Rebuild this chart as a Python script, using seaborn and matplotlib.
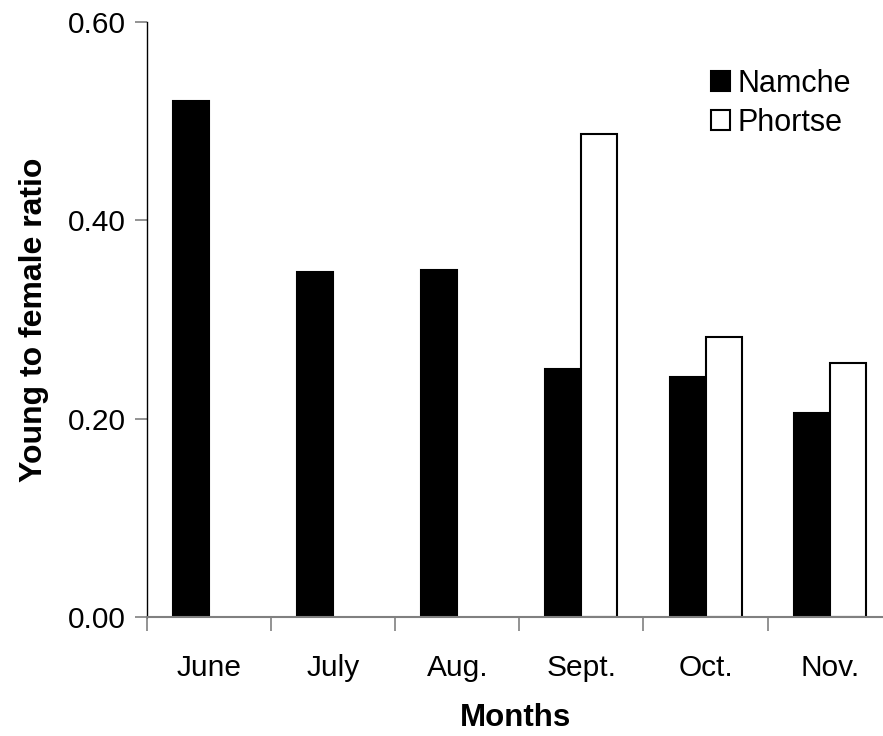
import numpy as np
import pandas as pd
import seaborn as sns
import matplotlib.pyplot as plt

months = ['June', 'July', 'Aug.', 'Sept.', 'Oct.', 'Nov.']
namche = [0.520, 0.348, 0.350, 0.250, 0.242, 0.206]
phortse = [np.nan, np.nan, np.nan, 0.487, 0.282, 0.256]

df = pd.DataFrame({
    'month': months * 2,
    'ratio': namche + phortse,
    'site': ['Namche'] * 6 + ['Phortse'] * 6,
})

sns.set_style('white')
plt.rcParams['font.family'] = ['Liberation Sans', 'DejaVu Sans']
plt.rcParams['text.color'] = 'black'
plt.rcParams['axes.labelcolor'] = 'black'

fig = plt.figure(figsize=(8.83, 7.36), dpi=100)
ax = fig.add_axes([147 / 883, 119 / 736, 736 / 883, 595 / 736])

sns.barplot(data=df, x='month', y='ratio', hue='site', order=months,
            hue_order=['Namche', 'Phortse'],
            palette={'Namche': 'black', 'Phortse': 'white'},
            width=0.58, gap=0, edgecolor='black', linewidth=1.5,
            errorbar=None, ax=ax)

ax.set_ylim(0, 0.6)
ax.set_xlim(-0.5, 5.43)
ax.set_yticks([0, 0.2, 0.4, 0.6])
ax.set_yticklabels(['0.00', '0.20', '0.40', '0.60'], fontsize=21.5)
ax.set_xticks(range(6))
ax.set_xticklabels(months, fontsize=21.5)
ax.set_xticks(np.arange(-0.5, 5.5, 1), minor=True)
ax.tick_params(axis='x', which='major', bottom=True, length=0, pad=27, labelcolor='black')
ax.tick_params(axis='x', which='minor', bottom=True, length=10, color='#808080', width=1.2, direction='out')
ax.tick_params(axis='y', left=True, length=9, color='#808080', width=1.2, direction='out', pad=6,
               labelcolor='black')

sns.despine(ax=ax)
ax.spines['left'].set_color('black')
ax.spines['left'].set_linewidth(1.0)
ax.spines['bottom'].set_color('#808080')
ax.spines['bottom'].set_linewidth(1.5)

ax.set_xlabel('Months', fontsize=22.5, fontweight='bold', labelpad=15)
ax.set_ylabel('Young to female ratio', fontsize=23, fontweight='bold', labelpad=14)

handles, labels = ax.get_legend_handles_labels()
ax.legend(handles, labels, loc='upper left', bbox_to_anchor=(711 / 883, 1 - 69 / 736),
          bbox_transform=fig.transFigure, frameon=False, fontsize=22,
          handlelength=0.62, handleheight=0.62, handletextpad=0.25, labelspacing=0.28,
          borderaxespad=0, borderpad=0)

fig.savefig('out.png', dpi=100)
